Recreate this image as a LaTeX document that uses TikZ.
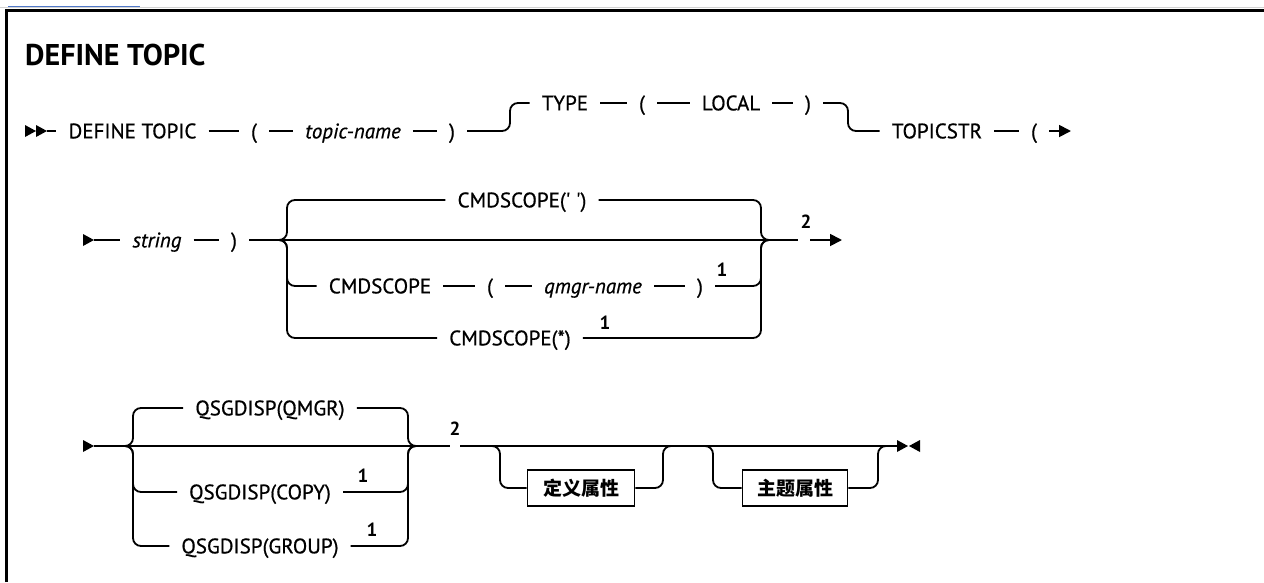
\documentclass[tikz,border=0pt]{standalone}
\usepackage{fontspec}
\setmainfont{PT Sans}
\newfontfamily\railfont{PT Sans}[FakeBold=0.7]
\newfontfamily\cjk{Noto Sans CJK SC}
\usetikzlibrary{arrows.meta}
\begin{document}
\begin{tikzpicture}[x=1pt,y=-1pt,
  rail/.style={line width=1.8pt},
  rc/.style={rail, rounded corners=8pt},
  tok/.style={inner xsep=12pt, inner ysep=0pt, text height=14.7pt, text depth=0pt, font=\railfont\fontsize{21}{24}\selectfont},
  var/.style={tok, font=\railfont\fontsize{21}{24}\selectfont\itshape},
  fn/.style={inner sep=0pt, font=\fontsize{19}{22}\selectfont\bfseries},
  frag/.style={draw, line width=1.8pt, minimum height=36pt, minimum width=107pt, inner sep=0pt, font=\cjk\bfseries\fontsize{19}{22}\selectfont},
  endarrow/.style={rail, -{Triangle[length=12pt,width=12pt]}}
]
\useasboundingbox (0,0) rectangle (1264,582);
% top remnants and frame
\draw[gray!35, line width=0.8pt] (0,7.5) -- (1264,7.5);
\draw[color={rgb,255:red,80;green,120;blue,200}, line width=1.2pt] (8,6.5) -- (140,6.5);
\draw[line width=2.5pt] (6.5,582) -- (6.5,10.5) -- (1264,10.5);
% title
\node[anchor=base west, inner sep=0pt, font=\fontsize{30}{34}\selectfont\bfseries] (title) at (25,65) {DEFINE TOPIC};

% ---------- row 1 ----------
\fill (25,125) -- (36,131) -- (25,137) -- cycle;
\fill (36,125) -- (47,131) -- (36,137) -- cycle;
\coordinate (s1) at (47,131);
\node[tok] (r1a) at (132.5,131) {DEFINE TOPIC};
\node[tok] (r1b) at (254,131) {(};
\node[var] (r1c) at (353,131) {topic-name};
\node[tok] (r1d) at (452,131) {)};
\node[tok] (r1e) at (565,103) {TYPE};
\node[tok] (r1f) at (642,103) {(};
\node[tok] (r1g) at (731,103) {LOCAL};
\node[tok] (r1h) at (808,103) {)};
\node[tok] (r1i) at (937,131) {TOPICSTR};
\node[tok] (r1j) at (1034,131) {(};
\coordinate (c1) at (510,103);
\coordinate (c2) at (848,131);
\coordinate (r1end) at (1071,131);
\draw[rail] (s1) -- (r1a.west);
\draw[rail] (r1a.east) -- (r1b.west);
\draw[rail] (r1b.east) -- (r1c.west);
\draw[rail] (r1c.east) -- (r1d.west);
\draw[rc] (r1d.east) -| (c1) -- (r1e.west);
\draw[rail] (r1e.east) -- (r1f.west);
\draw[rail] (r1f.east) -- (r1g.west);
\draw[rail] (r1g.east) -- (r1h.west);
\draw[rc] (r1h.east) -| (c2) -- (r1i.west);
\draw[rail] (r1i.east) -- (r1j.west);
\draw[endarrow] (r1j.east) -- (r1end);

% ---------- row 2 ----------
\fill (83,234) -- (94,240) -- (83,246) -- cycle;
\coordinate (s2) at (94,240);
\node[var] (r2a) at (157,240) {string};
\node[tok] (r2b) at (234,240) {)};
\node[tok] (r2c) at (522,200) {CMDSCOPE(\textquotesingle\ \textquotesingle)};
\node[tok] (r2d) at (380,286) {CMDSCOPE};
\node[tok] (r2e) at (490,286) {(};
\node[var] (r2f) at (593,286) {qmgr-name};
\node[tok] (r2g) at (700,286) {)};
\node[fn] (f1) at (722,270) {1};
\node[tok] (r2h) at (510,338) {CMDSCOPE(*)};
\node[fn] (f2) at (605,323) {1};
\node[fn] (f3) at (806,222) {2};
\coordinate (L2) at (279,240);
\coordinate (L2t) at (287,200);
\coordinate (L2m) at (287,286);
\coordinate (L2b) at (287,338);
\coordinate (R2v) at (761,240);
\coordinate (R2o) at (769,240);
\coordinate (g2a) at (798,240);
\coordinate (g2b) at (810,240);
\coordinate (r2end) at (842,240);
\draw[rail] (s2) -- (r2a.west);
\draw[rail] (r2a.east) -- (r2b.west);
\draw[rail] (r2b.east) -- (g2a);
\draw[rc] (L2) -| (L2t) -- (r2c.west);
\draw[rc] (r2c.east) -| (R2v) -- (R2o);
\draw[rc] (L2) -| (L2m) -- (r2d.west);
\draw[rail] (r2d.east) -- (r2e.west);
\draw[rail] (r2e.east) -- (r2f.west);
\draw[rail] (r2f.east) -- (r2g.west);
\draw[rc] (r2g.east) -| (R2v) -- (R2o);
\draw[rc] (L2) -| (L2b) -- (r2h.west);
\draw[rc] (r2h.east) -| (R2v) -- (R2o);
\draw[endarrow] (g2b) -- (r2end);

% ---------- row 3 ----------
\fill (83,440) -- (94,446) -- (83,452) -- cycle;
\coordinate (s3) at (94,446);
\node[tok] (r3a) at (270,408) {QSGDISP(QMGR)};
\node[tok] (r3b) at (260,492) {QSGDISP(COPY)};
\node[tok] (r3c) at (260,546) {QSGDISP(GROUP)};
\node[fn] (f4) at (363,476) {1};
\node[fn] (f5) at (372,530) {1};
\node[fn] (f6) at (455,429) {2};
\coordinate (L3) at (125,446);
\coordinate (L3t) at (133,408);
\coordinate (L3m) at (133,492);
\coordinate (L3b) at (133,546);
\coordinate (R3v) at (408,446);
\coordinate (R3o) at (416,446);
\coordinate (g3a) at (450,446);
\coordinate (g3b) at (460,446);
\coordinate (e3) at (897,446);
\draw[rail] (s3) -- (g3a);
\draw[rail] (g3b) -- (e3);
\draw[rc] (L3) -| (L3t) -- (r3a.west);
\draw[rc] (r3a.east) -| (R3v) -- (R3o);
\draw[rc] (L3) -| (L3m) -- (r3b.west);
\draw[rc] (r3b.east) -| (R3v) -- (R3o);
\draw[rc] (L3) -| (L3b) -- (r3c.west);
\draw[rc] (r3c.east) -| (R3v) -- (R3o);
% optional fragments
\node[frag] (b1) at (581,488) {定义属性};
\node[frag, minimum width=105pt] (b2) at (795,488) {主题属性};
\coordinate (o1a) at (492,446);
\coordinate (o1b) at (500,488);
\coordinate (o1c) at (663,446);
\coordinate (o1d) at (671,446);
\coordinate (o2a) at (705,446);
\coordinate (o2b) at (713,488);
\coordinate (o2c) at (878,446);
\coordinate (o2d) at (886,446);
\draw[rc] (o1a) -| (o1b) -- (b1.west);
\draw[rc] (b1.east) -| (o1c) -- (o1d);
\draw[rc] (o2a) -| (o2b) -- (b2.west);
\draw[rc] (b2.east) -| (o2c) -- (o2d);
% end marker
\fill (897,440) -- (908,446) -- (897,452) -- cycle;
\fill (920,440) -- (909,446) -- (920,452) -- cycle;
\end{tikzpicture}
\end{document}
